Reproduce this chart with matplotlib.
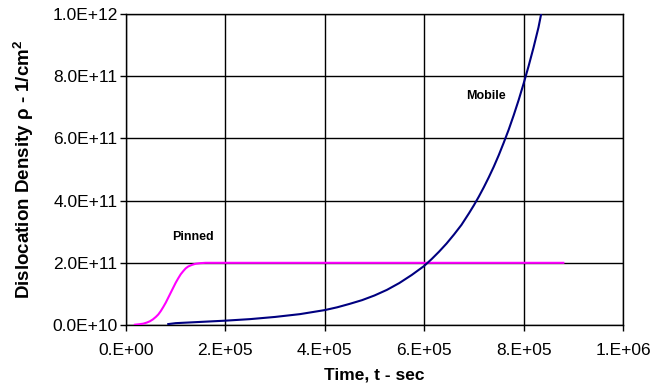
import matplotlib
matplotlib.use('Agg')
import matplotlib.pyplot as plt

plt.rcParams['font.family'] = ['Liberation Sans', 'DejaVu Sans']
plt.rcParams['mathtext.default'] = 'regular'

# pinned dislocation density
pinned_t = [0.18e5, 0.27e5, 0.35e5, 0.42e5, 0.48e5, 0.54e5, 0.6e5, 0.65e5, 0.7e5, 0.75e5,
            0.8e5, 0.85e5, 0.9e5, 0.95e5, 1.0e5, 1.05e5, 1.1e5, 1.15e5, 1.2e5, 1.25e5,
            1.32e5, 1.4e5, 1.5e5, 1.6e5, 1.7e5, 2.0e5, 4.0e5, 6.0e5, 8.0e5, 8.8e5]
pinned_rho = [0.1e10, 0.25e10, 0.45e10, 0.8e10, 1.2e10, 1.8e10, 2.6e10, 3.4e10, 4.5e10, 5.8e10,
              7.2e10, 8.8e10, 10.4e10, 12.0e10, 13.6e10, 15.0e10, 16.3e10, 17.3e10, 18.2e10, 18.8e10,
              19.3e10, 19.7e10, 19.9e10, 20.0e10, 20.0e10, 20.0e10, 20.0e10, 20.0e10, 20.0e10, 20.0e10]

# mobile dislocation density
mobile_t = [0.85e5, 1.0e5, 1.5e5, 2.0e5, 2.5e5, 3.0e5, 3.5e5, 4.0e5, 4.25e5, 4.5e5, 4.75e5,
            5.0e5, 5.25e5, 5.5e5, 5.75e5, 6.0e5, 6.15e5, 6.3e5, 6.45e5, 6.6e5, 6.75e5, 6.9e5,
            7.0e5, 7.1e5, 7.2e5, 7.3e5, 7.4e5, 7.5e5, 7.6e5, 7.7e5, 7.8e5, 7.9e5, 8.0e5,
            8.1e5, 8.2e5, 8.3e5, 8.36e5]
mobile_rho = [0.3e10, 0.6e10, 1.0e10, 1.4e10, 1.9e10, 2.6e10, 3.5e10, 4.8e10, 5.7e10, 6.8e10, 8.0e10,
              9.5e10, 11.3e10, 13.5e10, 16.1e10, 19.0e10, 21.2e10, 23.6e10, 26.2e10, 29.1e10, 32.2e10, 35.9e10,
              38.5e10, 41.3e10, 44.3e10, 47.5e10, 50.9e10, 54.6e10, 58.6e10, 62.8e10, 67.4e10, 72.3e10, 77.6e10,
              83.2e10, 89.2e10, 95.7e10, 100.5e10]

x_ticks = [0, 2e5, 4e5, 6e5, 8e5, 1e6]
x_labels = ['0.E+00', '2.E+05', '4.E+05', '6.E+05', '8.E+05', '1.E+06']
y_ticks = [0, 2e11, 4e11, 6e11, 8e11, 1e12]
y_labels = ['0.0E+10', '2.0E+11', '4.0E+11', '6.0E+11', '8.0E+11', '1.0E+12']

fig = plt.figure(figsize=(6.65, 3.85), dpi=100)
ax = fig.add_axes([0.1895, 0.1558, 0.7473, 0.8078])

ax.plot(pinned_t, pinned_rho, color='#ff00ff', lw=1.5, zorder=3)
ax.plot(mobile_t, mobile_rho, color='#000080', lw=1.5, zorder=3)

ax.set_xlim(0, 1e6)
ax.set_ylim(0, 1e12)
ax.set_xticks(x_ticks)
ax.set_xticklabels(x_labels, fontsize=12.5)
ax.set_yticks(y_ticks)
ax.set_yticklabels(y_labels, fontsize=12.5)
ax.tick_params(axis='y', direction='out', length=4, width=1, color='black', pad=2)
ax.tick_params(axis='x', direction='out', length=4, width=1, color='black', pad=9)
ax.grid(True, color='black', lw=1)
for s in ax.spines.values():
    s.set_color('black')
    s.set_linewidth(1)

ax.text(1.35e5, 2.83e11, 'Pinned', fontsize=9, fontweight='bold', ha='center', va='center')
ax.text(7.24e5, 7.36e11, 'Mobile', fontsize=9, fontweight='bold', ha='center', va='center')

ax.set_xlabel('Time, t - sec', fontsize=12.5, fontweight='bold', labelpad=7)
ax.set_ylabel(r'Dislocation Density $\rho$ - 1/cm$^2$', fontsize=13.5, fontweight='bold', labelpad=12)

plt.savefig('out.png', dpi=100)
